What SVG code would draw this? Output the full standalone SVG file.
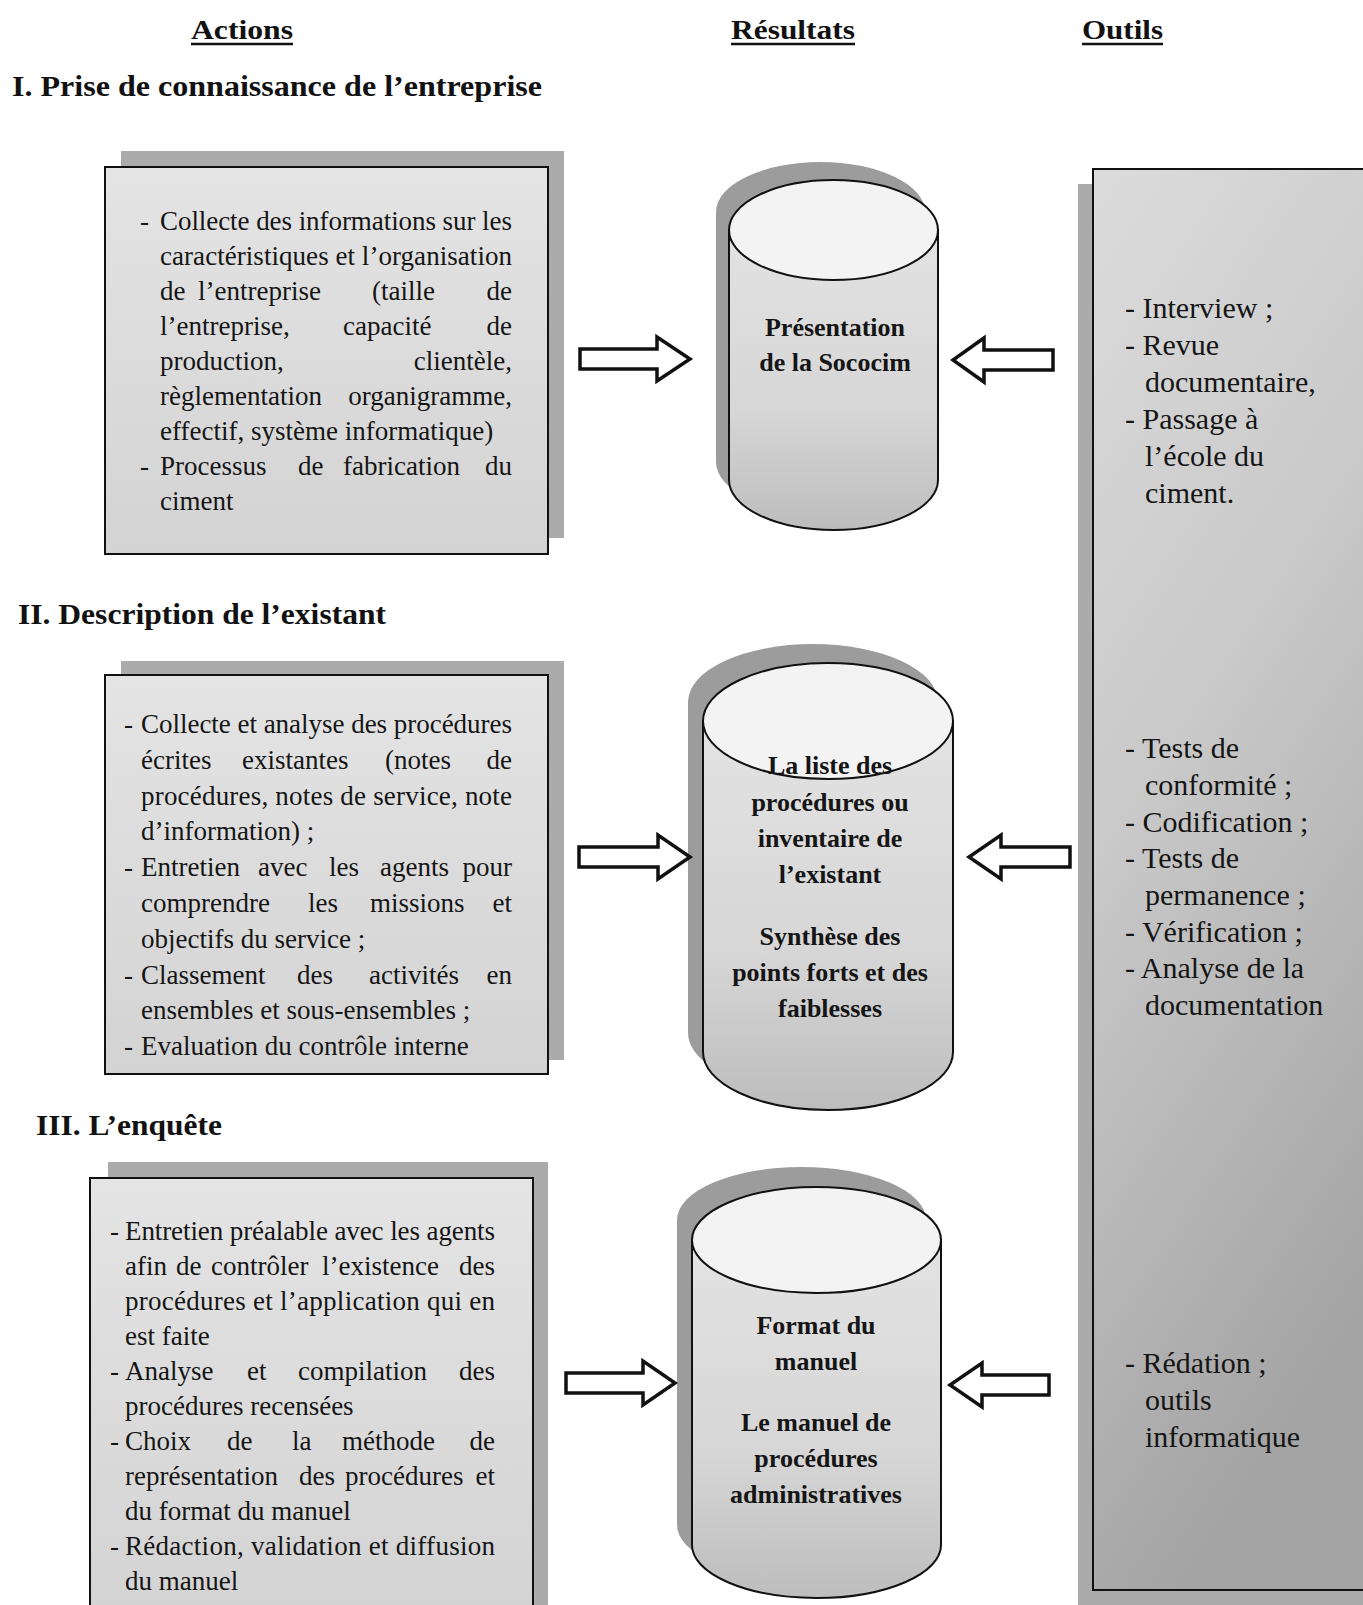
<svg xmlns="http://www.w3.org/2000/svg" width="1363" height="1605" viewBox="0 0 1363 1605">
<defs>
<linearGradient id="boxg" x1="0" y1="0" x2="0" y2="1">
<stop offset="0" stop-color="#e4e4e4"/><stop offset="1" stop-color="#d3d3d3"/>
</linearGradient>
<linearGradient id="cylg" x1="0" y1="0" x2="0" y2="1">
<stop offset="0" stop-color="#e3e3e3"/><stop offset="0.6" stop-color="#d6d6d6"/><stop offset="1" stop-color="#bdbdbd"/>
</linearGradient>
<linearGradient id="toolg" x1="0" y1="0" x2="0.3" y2="1">
<stop offset="0" stop-color="#dcdcdc"/><stop offset="0.45" stop-color="#c9c9c9"/><stop offset="1" stop-color="#a4a4a4"/>
</linearGradient>
<style>
.hd{font-family:"Liberation Serif","Times New Roman",serif;font-weight:bold;font-size:28px;fill:#111}
.sec{font-family:"Liberation Serif","Times New Roman",serif;font-weight:bold;font-size:29px;fill:#111}
.t{font-family:"Liberation Serif","Times New Roman",serif;font-size:27px;fill:#151515}
.e{text-anchor:end}
.c{font-family:"Liberation Serif","Times New Roman",serif;font-weight:bold;font-size:26px;fill:#151515;text-anchor:middle}
.tool{font-family:"Liberation Serif","Times New Roman",serif;font-size:30px;fill:#151515}
.box{fill:url(#boxg);stroke:#111;stroke-width:2}
.shd{fill:#ababab}
.cshd{fill:#9c9c9c}
.body{fill:url(#cylg);stroke:#111;stroke-width:2}
.top{fill:#f3f3f3;stroke:#111;stroke-width:2}
.arr{fill:#fff;stroke:#111;stroke-width:3.5;stroke-linejoin:miter}
.ul{stroke:#111;stroke-width:2.5}
</style>
</defs>
<rect width="1363" height="1605" fill="#fff"/>

<g id="headers">
<text class="hd" x="191" y="39" textLength="102" lengthAdjust="spacingAndGlyphs">Actions</text>
<line class="ul" x1="191" y1="44" x2="293" y2="44"/>
<text class="hd" x="731" y="39" textLength="124" lengthAdjust="spacingAndGlyphs">Résultats</text>
<line class="ul" x1="731" y1="44" x2="855" y2="44"/>
<text class="hd" x="1082" y="39" textLength="81" lengthAdjust="spacingAndGlyphs">Outils</text>
<line class="ul" x1="1082" y1="44" x2="1163" y2="44"/>
</g>

<g id="sections">
<text class="sec" x="12" y="96" textLength="530" lengthAdjust="spacingAndGlyphs">I. Prise de connaissance de l’entreprise</text>
<text class="sec" x="18" y="624" textLength="368" lengthAdjust="spacingAndGlyphs">II. Description de l’existant</text>
<text class="sec" x="36" y="1135" textLength="186" lengthAdjust="spacingAndGlyphs">III. L’enquête</text>
</g>

<g id="tools">
<rect class="shd" x="1078" y="184" width="290" height="1421"/>
<rect x="1093" y="169" width="280" height="1421" fill="url(#toolg)" stroke="#111" stroke-width="2"/>
<text class="tool" x="1125" y="318">- Interview ;</text>
<text class="tool" x="1125" y="355">- Revue</text>
<text class="tool" x="1145" y="392">documentaire,</text>
<text class="tool" x="1125" y="429">- Passage à</text>
<text class="tool" x="1145" y="466">l’école du</text>
<text class="tool" x="1145" y="503">ciment.</text>
<text class="tool" x="1125" y="758">- Tests de</text>
<text class="tool" x="1145" y="795">conformité ;</text>
<text class="tool" x="1125" y="832">- Codification ;</text>
<text class="tool" x="1125" y="868">- Tests de</text>
<text class="tool" x="1145" y="905">permanence ;</text>
<text class="tool" x="1125" y="942">- Vérification ;</text>
<text class="tool" x="1125" y="978">- Analyse de la</text>
<text class="tool" x="1145" y="1015">documentation</text>
<text class="tool" x="1125" y="1373">- Rédation ;</text>
<text class="tool" x="1145" y="1410">outils</text>
<text class="tool" x="1145" y="1447">informatique</text>
</g>

<g id="box1">
<rect class="shd" x="121" y="151" width="443" height="387"/>
<rect class="box" x="105" y="167" width="443" height="387"/>
<text class="t" x="140" y="230">-</text>
<text class="t" x="160" y="230" textLength="352" lengthAdjust="spacing">Collecte des informations sur les</text>
<text class="t" x="160" y="265" textLength="352" lengthAdjust="spacing">caractéristiques et l’organisation</text>
<text class="t" x="160" y="300">de</text><text class="t" x="198" y="300">l’entreprise</text><text class="t" x="372" y="300">(taille</text><text class="t e" x="512" y="300">de</text>
<text class="t" x="160" y="335">l’entreprise,</text><text class="t" x="343" y="335">capacité</text><text class="t e" x="512" y="335">de</text>
<text class="t" x="160" y="370">production,</text><text class="t e" x="512" y="370">clientèle,</text>
<text class="t" x="160" y="405">règlementation</text><text class="t e" x="512" y="405">organigramme,</text>
<text class="t" x="160" y="440">effectif, système informatique)</text>
<text class="t" x="140" y="475">-</text>
<text class="t" x="160" y="475">Processus</text><text class="t" x="298" y="475">de</text><text class="t" x="343" y="475">fabrication</text><text class="t e" x="512" y="475">du</text>
<text class="t" x="160" y="510">ciment</text>
</g>

<g id="box2">
<rect class="shd" x="121" y="661" width="443" height="399"/>
<rect class="box" x="105" y="675" width="443" height="399"/>
<text class="t" x="124" y="733">-</text>
<text class="t" x="141" y="733" textLength="371" lengthAdjust="spacing">Collecte et analyse des procédures</text>
<text class="t" x="141" y="769">écrites</text><text class="t" x="242" y="769">existantes</text><text class="t" x="385" y="769">(notes</text><text class="t e" x="512" y="769">de</text>
<text class="t" x="141" y="805" textLength="371" lengthAdjust="spacing">procédures, notes de service, note</text>
<text class="t" x="141" y="840">d’information) ;</text>
<text class="t" x="124" y="876">-</text>
<text class="t" x="141" y="876">Entretien</text><text class="t" x="258" y="876">avec</text><text class="t" x="329" y="876">les</text><text class="t" x="380" y="876">agents</text><text class="t e" x="512" y="876">pour</text>
<text class="t" x="141" y="912">comprendre</text><text class="t" x="308" y="912">les</text><text class="t" x="370" y="912">missions</text><text class="t e" x="512" y="912">et</text>
<text class="t" x="141" y="948">objectifs du service ;</text>
<text class="t" x="124" y="984">-</text>
<text class="t" x="141" y="984">Classement</text><text class="t" x="297" y="984">des</text><text class="t" x="369" y="984">activités</text><text class="t e" x="512" y="984">en</text>
<text class="t" x="141" y="1019">ensembles et sous-ensembles ;</text>
<text class="t" x="124" y="1055">-</text>
<text class="t" x="141" y="1055">Evaluation du contrôle interne</text>
</g>

<g id="box3">
<rect class="shd" x="108" y="1162" width="440" height="450"/>
<rect class="box" x="90" y="1178" width="443" height="440"/>
<text class="t" x="110" y="1240">-</text>
<text class="t" x="125" y="1240" textLength="370" lengthAdjust="spacing">Entretien préalable avec les agents</text>
<text class="t" x="125" y="1275">afin</text><text class="t" x="176" y="1275">de</text><text class="t" x="211" y="1275">contrôler</text><text class="t" x="322" y="1275">l’existence</text><text class="t e" x="495" y="1275">des</text>
<text class="t" x="125" y="1310" textLength="370" lengthAdjust="spacing">procédures et l’application qui en</text>
<text class="t" x="125" y="1345">est faite</text>
<text class="t" x="110" y="1380">-</text>
<text class="t" x="125" y="1380">Analyse</text><text class="t" x="247" y="1380">et</text><text class="t" x="298" y="1380">compilation</text><text class="t e" x="495" y="1380">des</text>
<text class="t" x="125" y="1415">procédures recensées</text>
<text class="t" x="110" y="1450">-</text>
<text class="t" x="125" y="1450">Choix</text><text class="t" x="227" y="1450">de</text><text class="t" x="292" y="1450">la</text><text class="t" x="342" y="1450">méthode</text><text class="t e" x="495" y="1450">de</text>
<text class="t" x="125" y="1485">représentation</text><text class="t" x="299" y="1485">des</text><text class="t" x="345" y="1485">procédures</text><text class="t e" x="495" y="1485">et</text>
<text class="t" x="125" y="1520">du format du manuel</text>
<text class="t" x="110" y="1555">-</text>
<text class="t" x="125" y="1555" textLength="370" lengthAdjust="spacing">Rédaction, validation et diffusion</text>
<text class="t" x="125" y="1590">du manuel</text>
</g>

<g id="cyl1">
<path class="cshd" transform="translate(-13,-16)" d="M729,228 A104.5,50 0 0 1 938,228 V478 A104.5,50 0 0 1 729,478 Z"/>
<path class="body" d="M729,230 V480 A104.5,50 0 0 0 938,480 V230 Z"/>
<ellipse class="top" cx="833.5" cy="230" rx="104.5" ry="50"/>
<text class="c" x="835" y="336">Présentation</text>
<text class="c" x="835" y="371">de la Sococim</text>
</g>

<g id="cyl2">
<path class="cshd" transform="translate(-15,-19)" d="M703,721 A125,58 0 0 1 953,721 V1052 A125,58 0 0 1 703,1052 Z"/>
<path class="body" d="M703,721 V1052 A125,58 0 0 0 953,1052 V721 Z"/>
<ellipse class="top" cx="828" cy="721" rx="125" ry="58"/>
<text class="c" x="830" y="774">La liste des</text>
<text class="c" x="830" y="811">procédures ou</text>
<text class="c" x="830" y="847">inventaire de</text>
<text class="c" x="830" y="883">l’existant</text>
<text class="c" x="830" y="945">Synthèse des</text>
<text class="c" x="830" y="981">points forts et des</text>
<text class="c" x="830" y="1017">faiblesses</text>
</g>

<g id="cyl3">
<path class="cshd" transform="translate(-15,-20)" d="M692,1240 A124.5,53 0 0 1 941,1240 V1545 A124.5,53 0 0 1 692,1545 Z"/>
<path class="body" d="M692,1240 V1545 A124.5,53 0 0 0 941,1545 V1240 Z"/>
<ellipse class="top" cx="816.5" cy="1240" rx="124.5" ry="53"/>
<text class="c" x="816" y="1334">Format du</text>
<text class="c" x="816" y="1370">manuel</text>
<text class="c" x="816" y="1431">Le manuel de</text>
<text class="c" x="816" y="1467">procédures</text>
<text class="c" x="816" y="1503">administratives</text>
</g>

<g id="connectors">
<polygon class="arr" points="580,349 657,349 657,337 690,359 657,381 657,369 580,369"/>
<polygon class="arr" points="1053,350 984,350 984,338 953,360 984,382 984,370 1053,370"/>
<polygon class="arr" points="579,847 658,847 658,835 690,857 658,879 658,867 579,867"/>
<polygon class="arr" points="1070,847 1001,847 1001,835 969,857 1001,879 1001,867 1070,867"/>
<polygon class="arr" points="566,1373 643,1373 643,1361 675,1383 643,1405 643,1393 566,1393"/>
<polygon class="arr" points="1049,1375 982,1375 982,1363 950,1385 982,1407 982,1395 1049,1395"/>
</g>
</svg>
